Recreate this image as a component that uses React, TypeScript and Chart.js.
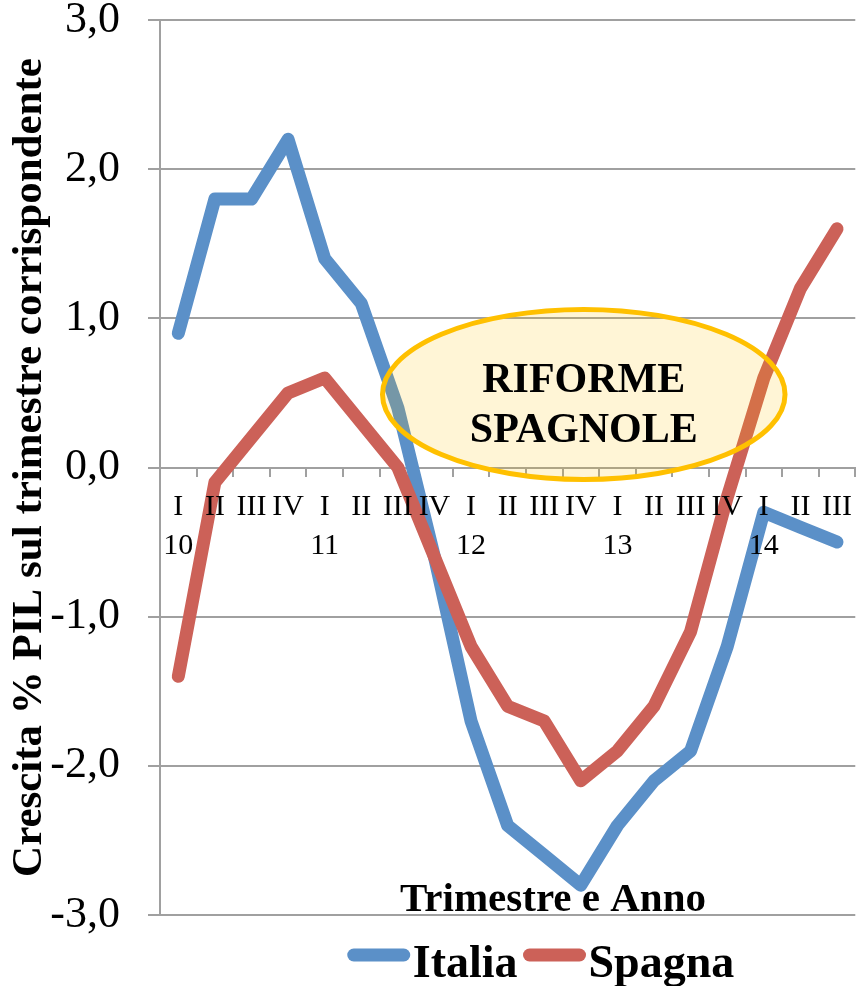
import React, { useEffect, useRef } from "react";
import { Chart, registerables } from "chart.js";

Chart.register(...registerables);

const quarters = ["I","II","III","IV","I","II","III","IV","I","II","III","IV","I","II","III","IV","I","II","III"];
const years = ["10","","","","11","","","","12","","","","13","","","","14","",""];
const italia = [0.9, 1.8, 1.8, 2.2, 1.4, 1.1, 0.4, -0.6, -1.7, -2.4, -2.6, -2.8, -2.4, -2.1, -1.9, -1.2, -0.3, -0.4, -0.5];
const spagna = [-1.4, -0.1, 0.2, 0.5, 0.6, 0.3, 0.0, -0.6, -1.2, -1.6, -1.7, -2.1, -1.9, -1.6, -1.1, -0.2, 0.6, 1.2, 1.6];
const annotationLines = ["RIFORME", "SPAGNOLE"];
const axisTitleX = "Trimestre e Anno";
const axisTitleY = "Crescita % PIL sul trimestre corrispondente";

const FONT = "'Liberation Serif', 'DejaVu Serif', serif";
const BLUE = "#5B90C8";
const RED = "#CC6158";

const annotationPlugin = {
  id: "riforme",
  afterDatasetsDraw(chart: any) {
    const { ctx, scales, chartArea } = chart;
    const x = scales.x;
    const y = scales.y;
    const step = x.getPixelForValue(1) - x.getPixelForValue(0);
    const cx = x.getPixelForValue(11) + step * 0.08;
    const rx = step * 5.5;
    const cy = y.getPixelForValue(0.49);
    const ry = Math.abs(y.getPixelForValue(0.49 + 0.57) - cy);
    ctx.save();
    ctx.beginPath();
    ctx.ellipse(cx, cy, rx, ry, 0, 0, Math.PI * 2);
    ctx.fillStyle = "rgba(255,192,0,0.16)";
    ctx.fill();
    ctx.lineWidth = 5;
    ctx.strokeStyle = "#FFC000";
    ctx.stroke();
    ctx.fillStyle = "#000";
    ctx.font = `bold 42px ${FONT}`;
    ctx.textAlign = "center";
    ctx.textBaseline = "alphabetic";
    ctx.fillText(annotationLines[0], cx, cy - 2);
    ctx.fillText(annotationLines[1], cx, cy + 48);
    ctx.font = `bold 41px ${FONT}`;
    ctx.fillText(axisTitleX, 553, chartArea.bottom - 4);
    ctx.restore();
  },
};

const legendPlugin = {
  id: "customLegend",
  afterDraw(chart: any) {
    const { ctx } = chart;
    const lineLen = 62;
    const gapText = 3;
    const gapItem = 6;
    const yLine = 955;
    const yText = 977;
    ctx.save();
    ctx.font = `bold 46px ${FONT}`;
    const items = chart.data.datasets.map((d: any) => ({
      label: d.label,
      color: d.borderColor,
      w: lineLen + gapText + ctx.measureText(d.label).width,
    }));
    const total = items.reduce((s: number, it: any) => s + it.w, 0) + gapItem * (items.length - 1);
    let xPos = 541 - total / 2;
    for (const it of items) {
      ctx.beginPath();
      ctx.lineCap = "round";
      ctx.lineWidth = 13;
      ctx.strokeStyle = it.color;
      ctx.moveTo(xPos + 6, yLine);
      ctx.lineTo(xPos + lineLen - 6, yLine);
      ctx.stroke();
      ctx.fillStyle = "#000";
      ctx.textAlign = "left";
      ctx.textBaseline = "alphabetic";
      ctx.fillText(it.label, xPos + lineLen + gapText, yText);
      xPos += it.w + gapItem;
    }
    ctx.restore();
  },
};

export default function App() {
  const ref = useRef<HTMLCanvasElement>(null);
  useEffect(() => {
    if (!ref.current) return;
    const labels = quarters.map((q, i) => [q, years[i]]);
    const chart = new Chart(ref.current, {
      type: "line",
      data: {
        labels,
        datasets: [
          {
            label: "Italia",
            data: italia,
            borderColor: BLUE,
            backgroundColor: BLUE,
            borderWidth: 13,
            pointRadius: 0,
            borderCapStyle: "round",
            borderJoinStyle: "round",
            order: 1,
          },
          {
            label: "Spagna",
            data: spagna,
            borderColor: RED,
            backgroundColor: RED,
            borderWidth: 13,
            pointRadius: 0,
            borderCapStyle: "round",
            borderJoinStyle: "round",
            order: 0,
          },
        ],
      },
      options: {
        responsive: false,
        animation: false,
        layout: { padding: { top: 0, right: 1, left: 0, bottom: 71 } },
        plugins: {
          legend: { display: false },
          tooltip: { enabled: false },
        },
        scales: {
          x: {
            position: { y: 0 } as any,
            offset: true,
            grid: {
              display: true,
              drawOnChartArea: false,
              drawTicks: true,
              tickLength: 8,
              offset: true,
              color: "#A0A0A0",
              lineWidth: 2,
            },
            border: { display: true, color: "#A0A0A0", width: 2 },
            ticks: {
              z: 1,
              autoSkip: false,
              maxRotation: 0,
              minRotation: 0,
              color: "#000",
              padding: 13,
              font: { family: FONT, size: 30, lineHeight: 1.27 },
            },
          },
          y: {
            min: -3,
            max: 3,
            afterFit: (s: any) => {
              s.width = 160;
              s.paddingTop = 20;
              s.paddingBottom = 20;
            },
            grid: {
              color: "#A0A0A0",
              lineWidth: 2,
              tickLength: 12,
            },
            border: { display: true, color: "#A0A0A0", width: 2 },
            ticks: {
              stepSize: 1,
              color: "#000",
              padding: 28,
              font: { family: FONT, size: 44, lineHeight: 0.9 },
              callback: (v: any) => Number(v).toFixed(1).replace(".", ","),
            },
            title: {
              display: true,
              text: axisTitleY,
              color: "#000",
              padding: { top: 4, bottom: 0 },
              font: { family: FONT, size: 43, weight: "bold" },
            },
          },
        },
      },
      plugins: [annotationPlugin, legendPlugin],
    });
    return () => chart.destroy();
  }, []);
  return (
    <div style={{ position: "absolute", left: 0, top: 0, width: 865, height: 986 }}>
      <canvas ref={ref} width={865} height={986} />
    </div>
  );
}
